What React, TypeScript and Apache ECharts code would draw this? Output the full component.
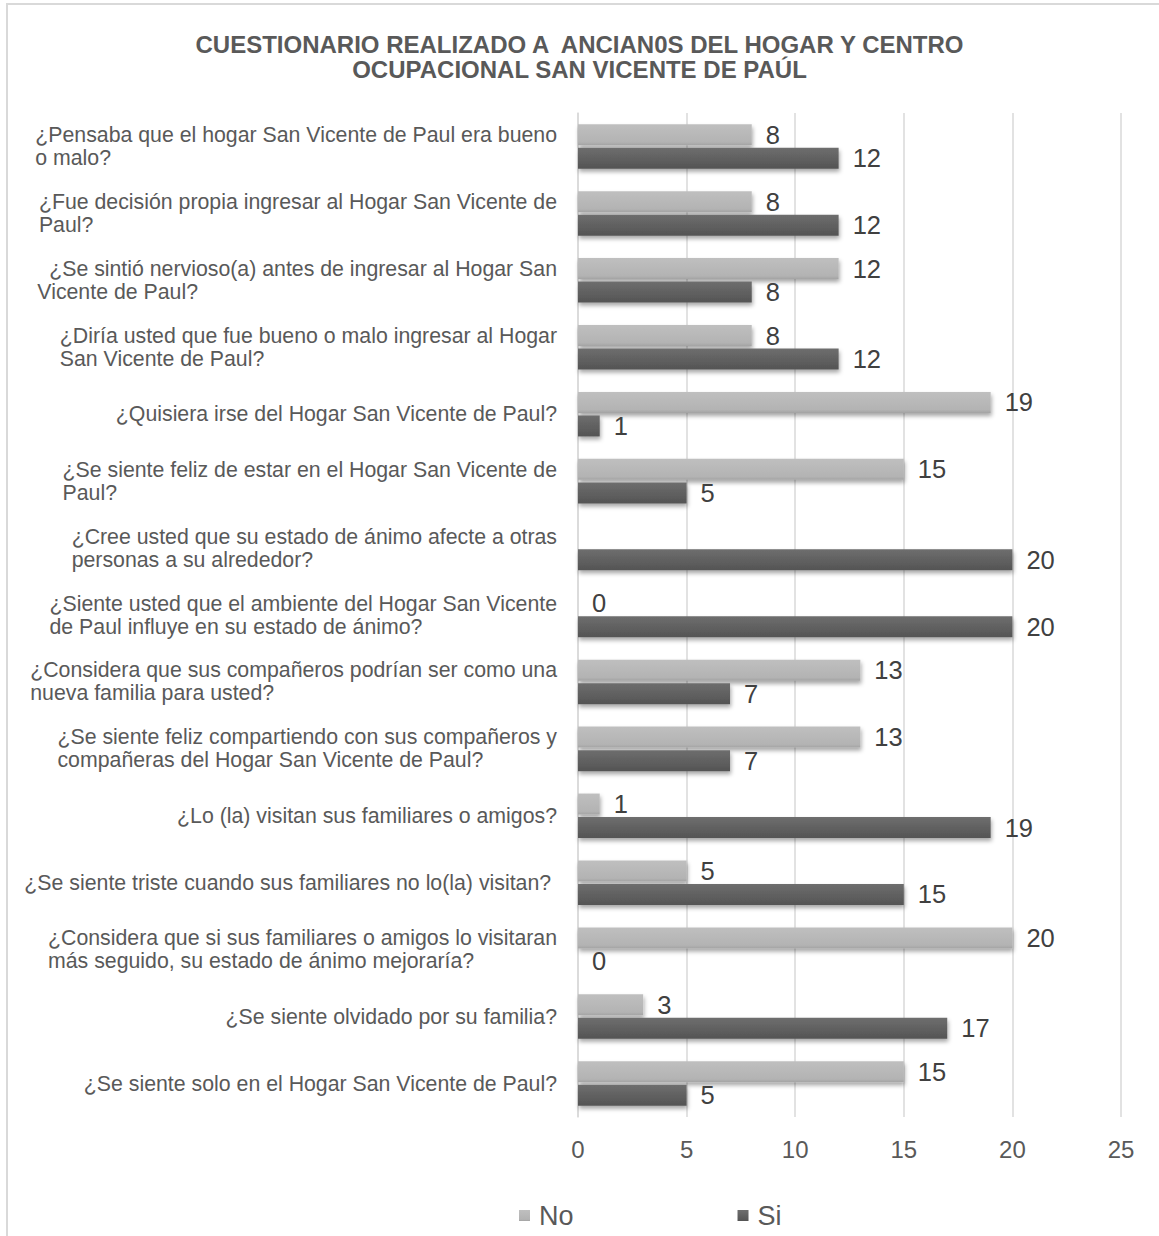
import React, { useEffect, useRef } from "react";
import * as echarts from "echarts";

const TITLE = "CUESTIONARIO REALIZADO A  ANCIAN0S DEL HOGAR Y CENTRO\nOCUPACIONAL SAN VICENTE DE PAÚL";

const categories = [
  "¿Pensaba que el hogar San Vicente de Paul era bueno\no malo?",
  "¿Fue decisión propia ingresar al Hogar San Vicente de\nPaul?",
  "  ¿Se sintió nervioso(a) antes de ingresar al Hogar San\nVicente de Paul?",
  "¿Diría usted que fue bueno o malo ingresar al Hogar\nSan Vicente de Paul?",
  "¿Quisiera irse del Hogar San Vicente de Paul?",
  "¿Se siente feliz de estar en el Hogar San Vicente de\nPaul?",
  "¿Cree usted que su estado de ánimo afecte a otras\npersonas a su alrededor?",
  "¿Siente usted que el ambiente del Hogar San Vicente\nde Paul influye en su estado de ánimo?",
  "¿Considera que sus compañeros podrían ser como una\nnueva familia para usted?",
  "¿Se siente feliz compartiendo con sus compañeros y\ncompañeras del Hogar San Vicente de Paul?",
  "¿Lo (la) visitan sus familiares o amigos?",
  "¿Se siente triste cuando sus familiares no lo(la) visitan? ",
  "¿Considera que si sus familiares o amigos lo visitaran\nmás seguido, su estado de ánimo mejoraría?",
  "¿Se siente olvidado por su familia?",
  "¿Se siente solo en el Hogar San Vicente de Paul?",
];

const noValues: (number | null)[] = [8, 8, 12, 8, 19, 15, null, 0, 13, 13, 1, 5, 20, 3, 15];
const siValues: (number | null)[] = [12, 12, 8, 12, 1, 5, 20, 20, 7, 7, 19, 15, 0, 17, 5];

const xTicks = { min: 0, max: 25, interval: 5 };

const FONT = "'Liberation Sans', Arial, Helvetica, sans-serif";

export default function App() {
  const ref = useRef<HTMLDivElement>(null);

  useEffect(() => {
    document.body.style.margin = "0";
    if (!ref.current) return;
    const chart = echarts.init(ref.current, null, { renderer: "svg" });

    const shadow = {
      shadowBlur: 4,
      shadowOffsetY: 3,
      shadowOffsetX: 1,
      shadowColor: "rgba(0,0,0,0.35)",
    };

    const labelStyle = {
      show: true,
      position: "right" as const,
      distance: 14,
      fontSize: 25.5,
      color: "#404040",
      fontFamily: FONT,
    };

    chart.setOption({
      animation: false,
      backgroundColor: "#ffffff",
      title: {
        text: TITLE,
        left: "center",
        top: 27,
        textStyle: {
          fontFamily: FONT,
          fontSize: 24,
          fontWeight: "bold",
          color: "#595959",
          lineHeight: 25,
        },
      },
      legend: {
        left: 514,
        top: 1197,
        itemWidth: 11,
        itemHeight: 11,
        itemGap: 164,
        icon: "rect",
        textStyle: { fontFamily: FONT, fontSize: 27, color: "#595959", padding: [0, 0, 0, 4] },
        data: ["No", "Si"],
      },
      grid: { left: 578, right: 38, top: 113, bottom: 119, containLabel: false },
      xAxis: {
        type: "value",
        min: xTicks.min,
        max: xTicks.max,
        interval: xTicks.interval,
        axisLine: { show: false },
        axisTick: { show: false },
        splitLine: { show: true, lineStyle: { color: "#d9d9d9", width: 1.5 } },
        axisLabel: { fontFamily: FONT, fontSize: 24, color: "#595959", margin: 20 },
      },
      yAxis: {
        type: "category",
        inverse: true,
        data: categories,
        axisLine: { show: true, lineStyle: { color: "#d9d9d9", width: 1.5 } },
        axisTick: { show: false },
        axisLabel: {
          margin: 21,
          align: "right",
          interval: 0,
          formatter: (v: string) =>
            v
              .split("\n")
              .map((l) => `{a|${l}}`)
              .join("\n"),
          rich: {
            a: {
              align: "left",
              fontFamily: FONT,
              fontSize: 21.3,
              lineHeight: 23,
              color: "#595959",
            },
          },
        },
      },
      series: [
        {
          name: "No",
          type: "bar",
          data: noValues,
          barWidth: 21,
          barGap: "12%",
          itemStyle: {
            color: new echarts.graphic.LinearGradient(0, 0, 0, 1, [
              { offset: 0, color: "#bfbfbf" },
              { offset: 0.85, color: "#b3b3b3" },
              { offset: 1, color: "#a3a3a3" },
            ]),
            ...shadow,
          },
          label: labelStyle,
        },
        {
          name: "Si",
          type: "bar",
          data: siValues,
          barWidth: 21,
          itemStyle: {
            color: new echarts.graphic.LinearGradient(0, 0, 0, 1, [
              { offset: 0, color: "#6e6e6e" },
              { offset: 1, color: "#545454" },
            ]),
            ...shadow,
          },
          label: labelStyle,
        },
      ],
    });

    return () => chart.dispose();
  }, []);

  return (
    <div style={{ position: "absolute", left: 0, top: 0, width: 1159, height: 1236 }}>
      <div ref={ref} style={{ position: "absolute", left: 0, top: 0, width: 1159, height: 1236 }} />
      <div
        style={{
          position: "absolute",
          left: 6,
          top: 3,
          width: 1153,
          height: 1233,
          borderTop: "2px solid #d9d9d9",
          borderLeft: "2px solid #d9d9d9",
          pointerEvents: "none",
          boxSizing: "border-box",
        }}
      />
    </div>
  );
}
